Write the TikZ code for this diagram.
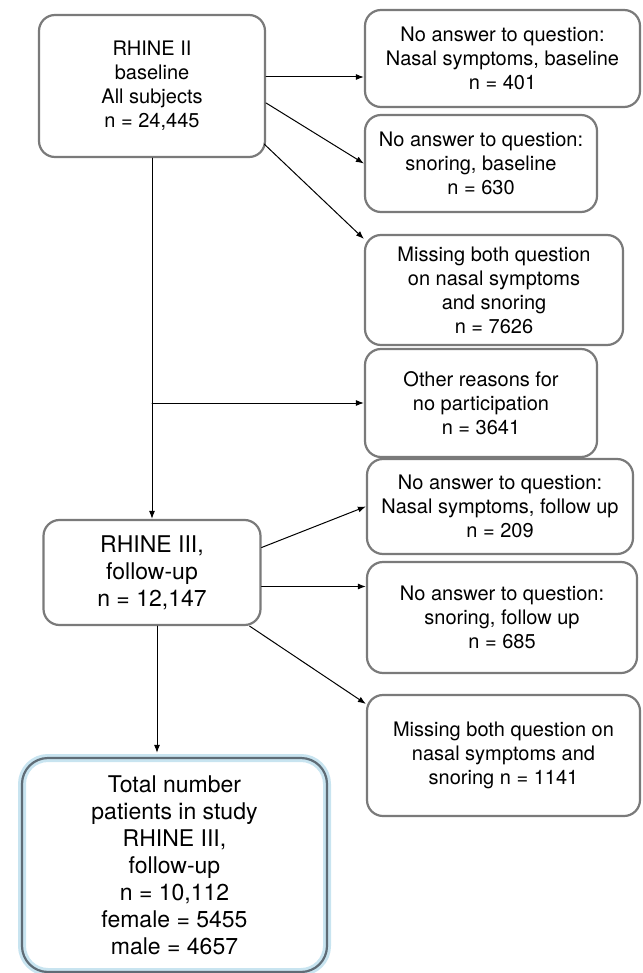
\documentclass[tikz,border=0pt]{standalone}
\usepackage{fontspec}
\setmainfont{TeX Gyre Heros}
\usetikzlibrary{arrows.meta}
\definecolor{boxgray}{RGB}{122,122,122}
\definecolor{finalline}{RGB}{95,108,118}
\definecolor{glowblue}{RGB}{200,228,240}
\begin{document}
\begin{tikzpicture}[x=1pt, y=-1pt, line join=round, line cap=round, >={Latex[length=8pt,width=6pt]},
	box/.style={draw=boxgray, line width=2.2pt, rounded corners=16pt, align=center, inner sep=0pt, font=\fontsize{20}{24}\selectfont},
	bigbox/.style={box, font=\fontsize{23}{27}\selectfont},
	finalbox/.style={bigbox, draw=finalline, rounded corners=26pt, preaction={draw=glowblue, line width=8pt}},
	link/.style={->, line width=1pt}]
	\useasboundingbox (0,0) rectangle (642,973);
	
	% Kohort ban đầu
	\node[box, minimum width=226pt, minimum height=142pt] (base) at (152,86) {RHINE II\\baseline\\All subjects\\n = 24,445};
	
	% Các nhóm bị loại ở baseline
	\node[box, minimum width=275pt, minimum height=97pt] (noNasal) at (502.5,58.5) {No answer to question:\\Nasal symptoms, baseline\\n = 401};
	\node[box, minimum width=232pt, minimum height=97pt] (noSnore) at (481,163.5) {No answer to question:\\snoring, baseline\\n = 630};
	\node[box, minimum width=258pt, minimum height=110pt] (noBoth) at (494,290) {Missing both question\\on nasal symptoms\\and snoring\\n = 7626};
	\node[box, minimum width=232pt, minimum height=108pt] (other) at (481,403) {Other reasons for\\no participation\\n = 3641};
	
	% Kohort theo dõi và các nhóm bị loại
	\node[bigbox, minimum width=217pt, minimum height=105pt] (follow) at (152,572.5) {RHINE III,\\follow-up\\n = 12,147};
	\node[box, minimum width=266pt, minimum height=95pt] (fuNasal) at (500,506.5) {No answer to question:\\Nasal symptoms, follow up\\n = 209};
	\node[box, minimum width=270pt, minimum height=111pt] (fuSnore) at (502,617.5) {No answer to question:\\snoring, follow up\\n = 685};
	\node[box, minimum width=273pt, minimum height=121pt] (fuBoth) at (503.5,755.5) {Missing both question on\\nasal symptoms and\\snoring n = 1141};
	
	% Tổng số bệnh nhân
	\node[finalbox, minimum width=305pt, minimum height=214pt] (total) at (174.5,865) {Total number\\patients in study\\RHINE III,\\follow-up\\n = 10,112\\female = 5455\\male = 4657};
	
	% Mũi tên từ baseline
	\coordinate (s1) at ([yshift=9pt]base.east);
	\draw[link] (s1) -- (s1 -| noNasal.west);
	\draw[link] ([yshift=-17pt]base.east) -- (noSnore.west);
	\draw[link] ([xshift=-2pt, yshift=-58pt]base.east) -- ([yshift=-5pt]noBoth.north west);
	\draw[link] (base.south) -- (follow.north);
	\draw[link] (base.south |- other.west) -- (other.west);
	
	% Mũi tên từ follow-up
	\draw[link] ([yshift=25pt]follow.east) -- (fuNasal.west);
	\coordinate (s2) at ([yshift=-14pt]follow.east);
	\draw[link] (s2) -- (s2 -| fuSnore.west);
	\draw[link] ([xshift=-12pt]follow.south east) -- ([yshift=-10pt]fuBoth.north west);
	\coordinate (drop) at ([xshift=5pt]follow.south);
	\draw[link, shorten >=4pt] (drop) -- (drop |- total.north);
\end{tikzpicture}
\end{document}
